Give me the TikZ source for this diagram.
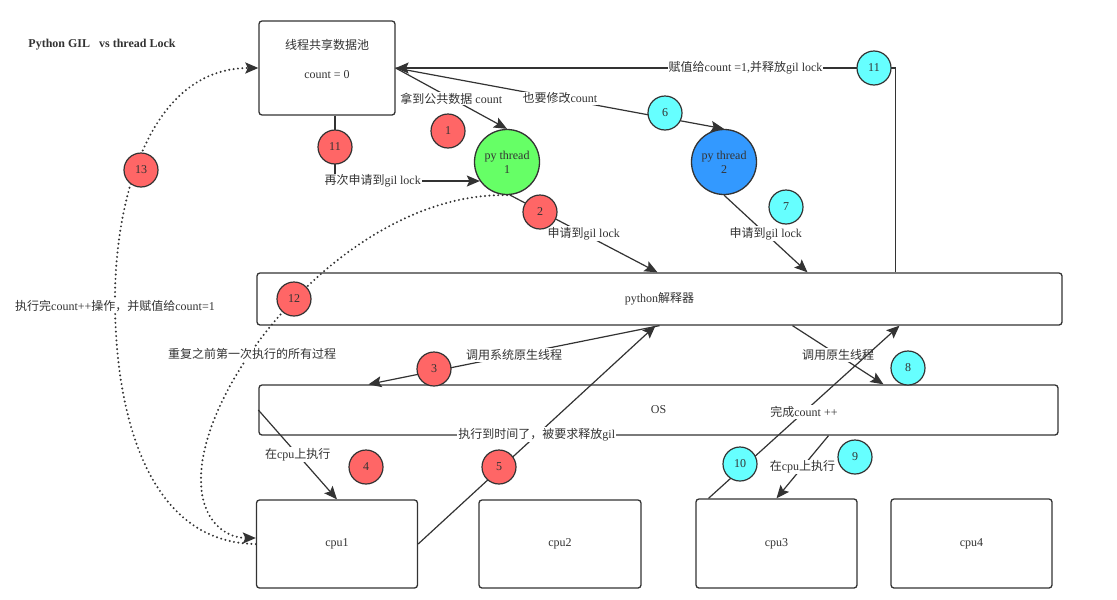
\documentclass[tikz,border=0pt]{standalone}
\usepackage{fontspec}
\setmainfont{Liberation Serif}
\newfontfamily\cjk{Noto Sans CJK SC}
\usetikzlibrary{arrows.meta}
\definecolor{redc}{RGB}{255,102,102}
\definecolor{cyanc}{RGB}{102,255,255}
\definecolor{greenc}{RGB}{102,255,102}
\definecolor{bluec}{RGB}{51,153,255}
\definecolor{inkc}{RGB}{51,51,51}
\newcommand{\zh}[1]{{\cjk #1}}

\begin{document}
\begin{tikzpicture}[
    x=1pt, y=-1pt,
    every node/.style={text=inkc, font=\fontsize{12}{14}\selectfont},
    box/.style={rectangle, rounded corners=3pt, draw=inkc, line width=1.3pt, fill=white, inner sep=0pt},
    thread/.style={circle, draw=inkc, line width=1.3pt, minimum size=65pt, inner sep=0pt, align=center},
    stepred/.style={circle, draw=inkc, line width=1.2pt, fill=redc, minimum size=34pt, inner sep=0pt},
    stepcyan/.style={stepred, fill=cyanc},
    flow/.style={-{Stealth[length=13pt, width=11pt, inset=2.5pt]}, draw=inkc, line width=1.2pt},
    dots/.style={line width=2.2pt, line cap=round, dash pattern=on 0pt off 4.4pt},
    lbl/.style={fill=white, inner sep=1pt},
  ]

  \fill[white] (0,0) rectangle (1117,600);
  \useasboundingbox (0,0) rectangle (1117,600);

  % --- title and shared data pool
  \node[font=\bfseries\fontsize{12}{14}\selectfont] (title) at (102,45) {Python GIL\ \ \ vs thread Lock};
  \node[box, minimum width=136pt, minimum height=94pt] (pool) at (327,68) {};
  \node (pooltxt) at (327,45) {\zh{线程共享数据池}};
  \node (poolcnt) at (327,75) {count = 0};

  % --- the two python threads
  \node[thread, fill=greenc] (thread1) at (507,162) {py thread\\1};
  \node[thread, fill=bluec] (thread2) at (724,162) {py thread\\2};

  % --- interpreter, OS and the four cpus
  \node[box, minimum width=805pt, minimum height=52pt] (interp) at (659.5,299) {python\zh{解释器}};
  \node[box, minimum width=799pt, minimum height=50pt] (os) at (658.5,410) {OS};
  \node[box, minimum width=161pt, minimum height=88pt] (cpu1) at (337,544) {cpu1};
  \node[box, minimum width=162pt, minimum height=88pt] (cpu2) at (560,544) {cpu2};
  \node[box, minimum width=161pt, minimum height=89pt] (cpu3) at (776.5,543.5) {cpu3};
  \node[box, minimum width=161pt, minimum height=89pt] (cpu4) at (971.5,543.5) {cpu4};

  % --- threads fetch count and ask for the gil
  \draw[flow] (pool.east) -- node[lbl] {\zh{拿到公共数据} count} (thread1.north);
  \draw[flow] (pool.east) -- node[lbl] {\zh{也要修改}count} (thread2.north);
  \draw[flow] ([xshift=236pt]interp.north) |- node[lbl, pos=0.65] {\zh{赋值给}count =1,\zh{并释放}gil lock} (pool.east);
  \draw[flow] ([xshift=8pt]pool.south) |- node[lbl, pos=0.63] {\zh{再次申请到}gil lock} (thread1.215);
  \draw[flow] (thread1.275) -- node[lbl] {\zh{申请到}gil lock} ([xshift=-2pt]interp.north);
  \draw[flow] (thread2.south) -- node[lbl] {\zh{申请到}gil lock} ([xshift=148pt]interp.north);

  % --- down to the cpus and back
  \draw[flow] (interp.south) -- node[lbl] {\zh{调用系统原生线程}} ([xshift=-290pt]os.north);
  \draw[flow] (os.west) -- node[lbl] {\zh{在}cpu\zh{上执行}} (cpu1.north);
  \draw[flow] (cpu1.east) -- node[lbl] {\zh{执行到时间了，被要求释放}gil} ([xshift=-4pt]interp.south);
  \draw[flow] ([xshift=133pt]interp.south) -- node[lbl] {\zh{调用原生线程}} ([xshift=225pt]os.north);
  \draw[flow] ([xshift=170pt]os.south) -- node[lbl] {\zh{在}cpu\zh{上执行}} (cpu3.north);
  \draw[flow] ([xshift=-68pt]cpu3.north) -- node[lbl] {\zh{完成}count ++} ([xshift=240pt]interp.south);

  % --- second round (dotted)
  \draw[flow, dots] (thread1.south) .. controls (350,192) and (200,380) .. (201,480)
    .. controls (201,520) and (225,538) .. ([yshift=6pt]cpu1.west);
  \draw[flow, dots] (cpu1.west) .. controls (146,543) and (115,410) .. (115,300)
    .. controls (115,194) and (152,68) .. (pool.west);
  \node[lbl] (again) at (252,354) {\zh{重复之前第一次执行的所有过程}};
  \node[lbl] (done) at (115,306) {\zh{执行完}count++\zh{操作，并赋值给}count=1};

  % --- step markers
  \foreach \nm/\x/\y in {1/448/131, 2/540/212, 3/434/369, 4/366/467, 5/499/467, 11/335/147, 12/294/299, 13/141/170}
    \node[stepred] (r\nm) at (\x,\y) {\nm};
  \foreach \nm/\x/\y in {6/665/113, 7/786/207, 8/908/368, 9/855/457, 10/740/464, 11/874/68}
    \node[stepcyan] (c\nm) at (\x,\y) {\nm};

\end{tikzpicture}
\end{document}
